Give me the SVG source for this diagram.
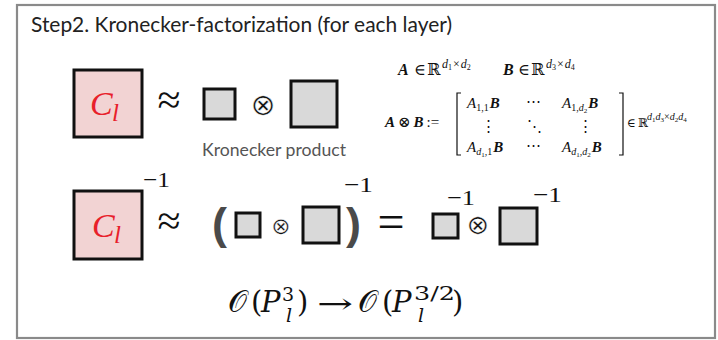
<svg xmlns="http://www.w3.org/2000/svg" width="718" height="340" viewBox="0 0 718 340">
<style>
.frame{fill:#fff;stroke:#8a8a8a;stroke-width:2.2}
.pink{fill:#f2d3d3;stroke:#111;stroke-width:3}
.gray{fill:#d9d9d9;stroke:#111;stroke-width:3}
.title{font-family:Lato,"Open Sans","Liberation Sans",sans-serif;font-size:21px;fill:#222}
.cap{font-family:Lato,"Open Sans","Liberation Sans",sans-serif;font-size:18px;fill:#555}
.m{font-family:"Liberation Serif","DejaVu Serif",serif;fill:#111}
.it{font-style:italic}
.bi{font-style:italic;font-weight:bold}
.red{fill:#e8202a}
.otimes{font-family:"DejaVu Sans","Liberation Sans",sans-serif;fill:#111;stroke:#fff;stroke-width:0.5px}
.par{font-family:"Liberation Sans","DejaVu Sans",sans-serif;fill:#4a4a4a;font-weight:bold}
.mc{font-family:"DejaVu Serif","Liberation Serif",serif;fill:#111}
</style>
<rect class="frame" x="17" y="5" width="698" height="333"/>
<text class="title" x="31" y="32" textLength="421" lengthAdjust="spacingAndGlyphs">Step2. Kronecker-factorization (for each layer)</text>

<g id="row1">
  <g id="C1">
    <rect class="pink" x="74" y="70" width="68" height="67"/>
    <text class="m it red" x="90" y="115" font-size="34">C</text>
    <text class="m it red" x="112" y="121" font-size="25">l</text>
  </g>
  <text class="m" x="169" y="114" font-size="42" text-anchor="middle">≈</text>
  <g id="A1"><rect class="gray" x="204" y="89" width="31" height="30"/></g>
  <text class="otimes" x="263" y="115" font-size="30" text-anchor="middle">⊗</text>
  <g id="B1"><rect class="gray" x="291" y="81" width="46" height="46"/></g>
  <text class="cap" x="202" y="156" textLength="144" lengthAdjust="spacingAndGlyphs">Kronecker product</text>
</g>

<g id="defs-text" class="m">
  <text x="398" y="75" font-size="16"><tspan class="bi">A</tspan><tspan x="414">∈</tspan><tspan x="427">ℝ</tspan></text>
  <text class="it" x="442" y="68" font-size="12">d<tspan font-size="8" dy="2" font-style="normal">1</tspan><tspan dy="-2" font-style="normal" dx="1">×</tspan><tspan dx="1">d</tspan><tspan font-size="8" dy="2" font-style="normal">2</tspan></text>
  <text x="503" y="75" font-size="16"><tspan class="bi">B</tspan><tspan x="518">∈</tspan><tspan x="531">ℝ</tspan></text>
  <text class="it" x="546" y="68" font-size="12">d<tspan font-size="8" dy="2" font-style="normal">3</tspan><tspan dy="-2" font-style="normal" dx="1">×</tspan><tspan dx="1">d</tspan><tspan font-size="8" dy="2" font-style="normal">4</tspan></text>

  <text x="385" y="127" font-size="15"><tspan class="bi">A</tspan><tspan dx="3">⊗</tspan><tspan class="bi" dx="3">B</tspan><tspan dx="3">:=</tspan></text>
  <path d="M461 93 H457 V155 H461 M619 93 H623 V155 H619" fill="none" stroke="#111" stroke-width="1.2"/>
  <text x="467" y="108" font-size="15"><tspan class="it">A</tspan><tspan font-size="10" dy="3">1,1</tspan><tspan class="bi" dy="-3" dx="1">B</tspan></text>
  <text x="526" y="106" font-size="15">⋯</text>
  <text x="562" y="108" font-size="15"><tspan class="it">A</tspan><tspan font-size="10" dy="3">1,<tspan class="it">d</tspan><tspan font-size="7" dy="2">2</tspan></tspan><tspan class="bi" dy="-5" dx="1">B</tspan></text>
  <text x="488" y="131" font-size="15" text-anchor="middle">⋮</text>
  <text x="534" y="131" font-size="15" text-anchor="middle">⋱</text>
  <text x="585" y="131" font-size="15" text-anchor="middle">⋮</text>
  <text x="467" y="152" font-size="15"><tspan class="it">A</tspan><tspan font-size="10" dy="3"><tspan class="it">d</tspan><tspan font-size="7" dy="2">1</tspan><tspan dy="-2">,1</tspan></tspan><tspan class="bi" dy="-3" dx="1">B</tspan></text>
  <text x="526" y="150" font-size="15">⋯</text>
  <text x="562" y="152" font-size="15"><tspan class="it">A</tspan><tspan font-size="10" dy="3"><tspan class="it">d</tspan><tspan font-size="7" dy="2">1</tspan><tspan dy="-2">,</tspan><tspan class="it">d</tspan><tspan font-size="7" dy="2">2</tspan></tspan><tspan class="bi" dy="-5" dx="1">B</tspan></text>
  <text x="627" y="127" font-size="12">∈<tspan dx="2">ℝ</tspan></text>
  <text class="it" x="647" y="120" font-size="10">d<tspan font-size="7" dy="1.5" font-style="normal">1</tspan><tspan dy="-1.5">d</tspan><tspan font-size="7" dy="1.5" font-style="normal">3</tspan><tspan dy="-1.5" font-style="normal">×</tspan><tspan>d</tspan><tspan font-size="7" dy="1.5" font-style="normal">2</tspan><tspan dy="-1.5">d</tspan><tspan font-size="7" dy="1.5" font-style="normal">4</tspan></text>
</g>

<g id="row2">
  <g id="C2">
    <rect class="pink" x="74" y="191" width="68" height="68"/>
    <text class="m it red" x="92" y="237" font-size="34">C</text>
    <text class="m it red" x="114" y="243" font-size="25">l</text>
  </g>
  <text class="m" x="143" y="187" font-size="22" textLength="27" lengthAdjust="spacingAndGlyphs">−1</text>
  <text class="m" x="169" y="235" font-size="42" text-anchor="middle">≈</text>
  <text class="par" x="212" y="239" font-size="45">(</text>
  <g id="A2"><rect class="gray" x="236" y="213" width="24" height="24"/></g>
  <text class="otimes" x="281" y="234" font-size="23" text-anchor="middle" style="stroke-width:0.4px">⊗</text>
  <g id="B2"><rect class="gray" x="303" y="207" width="36" height="36"/></g>
  <text class="par" x="346" y="239" font-size="45">)</text>
  <text class="m" x="344" y="192" font-size="22" textLength="29" lengthAdjust="spacingAndGlyphs">−1</text>
  <text class="m" x="391" y="238" font-size="48" text-anchor="middle">=</text>
  <g id="A3"><rect class="gray" x="433" y="214" width="25" height="24"/></g>
  <text class="m" x="447" y="205" font-size="22" textLength="28" lengthAdjust="spacingAndGlyphs">−1</text>
  <text class="otimes" x="478" y="234" font-size="27" text-anchor="middle" style="stroke-width:0.4px">⊗</text>
  <g id="B3"><rect class="gray" x="500" y="208" width="37" height="36"/></g>
  <text class="m" x="533" y="202" font-size="22" textLength="29" lengthAdjust="spacingAndGlyphs">−1</text>
</g>

<g id="complexity" class="mc">
  <text x="228" y="312" font-size="30">𝒪</text>
  <text x="251" y="312" font-size="29">(</text>
  <text class="it" x="261" y="312" font-size="29">P</text>
  <text x="282" y="301" font-size="19">3</text>
  <text class="it" x="286" y="322" font-size="19">l</text>
  <text x="297" y="312" font-size="29">)</text>
  <text x="317" y="313" font-size="27" textLength="36" lengthAdjust="spacingAndGlyphs">→</text>
  <text x="358" y="312" font-size="30">𝒪</text>
  <text x="382" y="312" font-size="29">(</text>
  <text class="it" x="392" y="312" font-size="29">P</text>
  <text x="414" y="300" font-size="19" textLength="41" lengthAdjust="spacingAndGlyphs">3/2</text>
  <text class="it" x="418" y="322" font-size="19">l</text>
  <text x="452" y="312" font-size="29">)</text>
</g>
</svg>
